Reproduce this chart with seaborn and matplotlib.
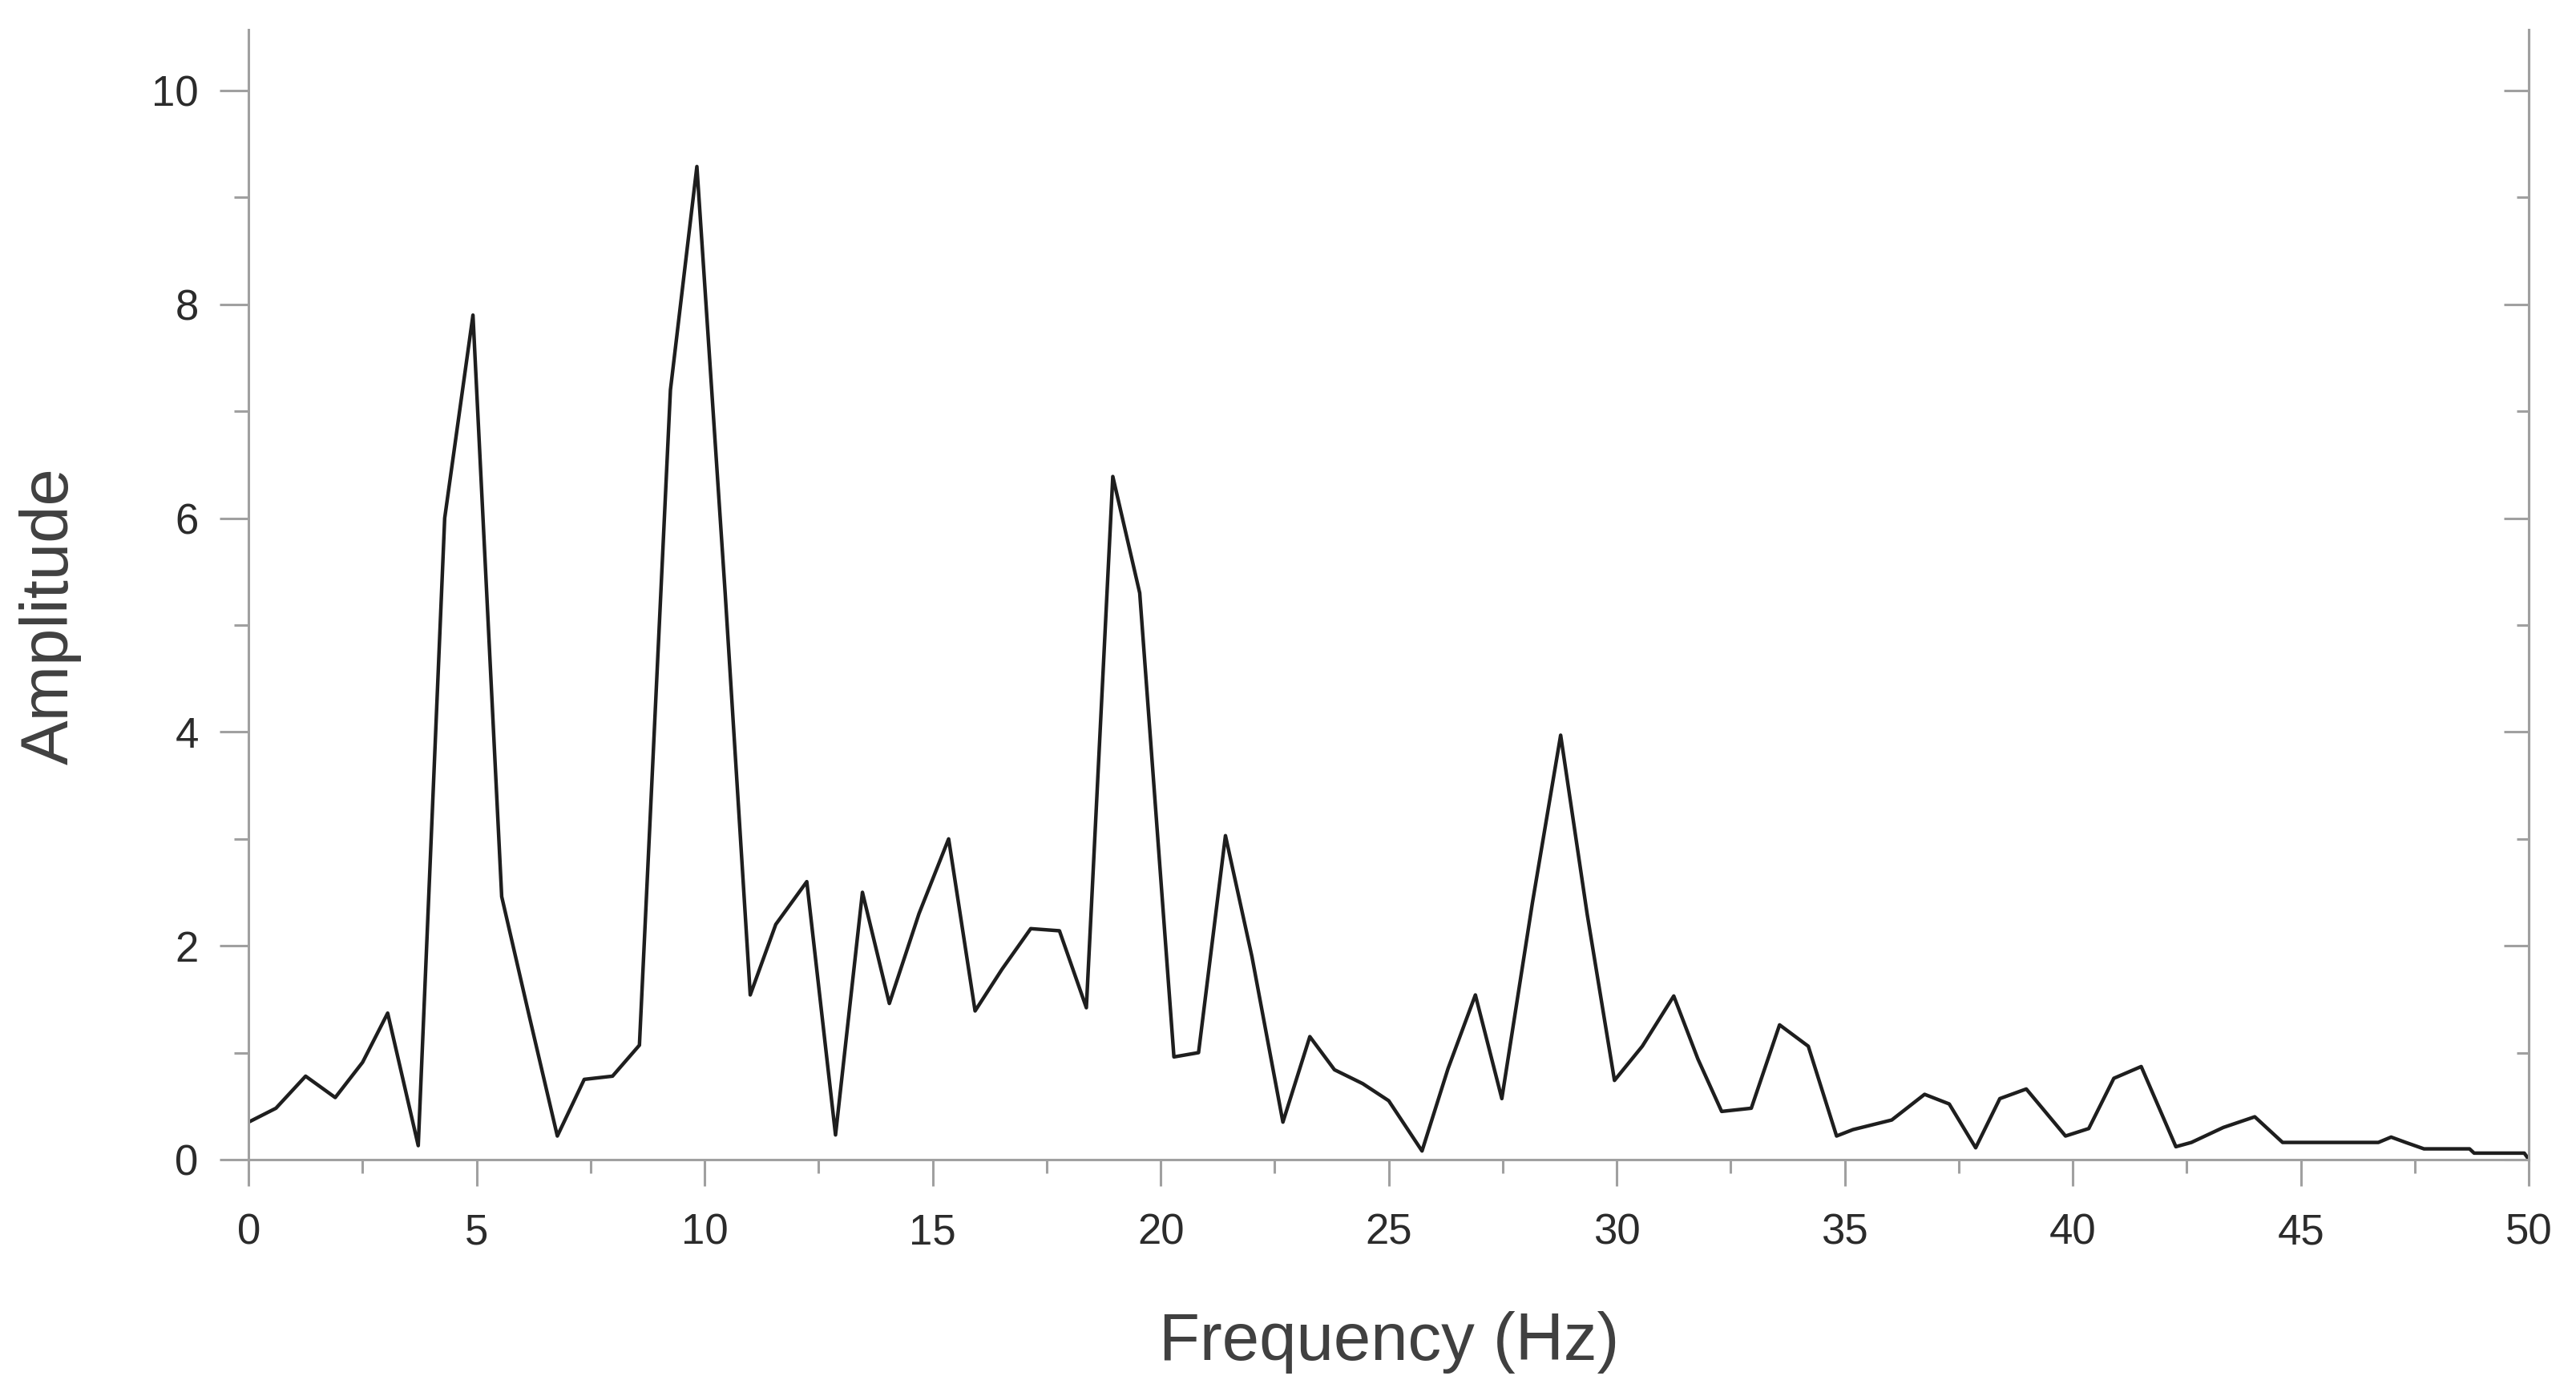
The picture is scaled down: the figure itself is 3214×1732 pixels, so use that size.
import numpy as np
import pandas as pd
import seaborn as sns
import matplotlib.pyplot as plt
from matplotlib.ticker import MultipleLocator

# Spectrum
freq = [0.0, 0.6, 1.25, 1.9, 2.5, 3.05, 3.72, 4.3, 4.92, 5.55, 6.15, 6.77, 7.36, 7.98, 8.57,
        9.25, 9.83, 10.45, 11.0, 11.56, 12.24, 12.87, 13.46, 14.05, 14.7, 15.35, 15.93, 16.52,
        17.15, 17.78, 18.37, 18.95, 19.54, 20.29, 20.83, 21.42, 22.0, 22.68, 23.27, 23.81,
        24.43, 25.0, 25.73, 26.3, 26.9, 27.48, 28.15, 28.77, 29.35, 29.95, 30.56, 31.25,
        31.78, 32.3, 32.95, 33.57, 34.2, 34.82, 35.18, 36.03, 36.75, 37.29, 37.87, 38.4,
        38.98, 39.84, 40.35, 40.9, 41.5, 42.26, 42.6, 43.3, 43.99, 44.6, 45.2, 45.8, 46.4,
        46.7, 46.98, 47.3, 47.7, 48.2, 48.7, 48.8, 49.4, 49.9, 50.0]
amplitude = [0.35, 0.48, 0.78, 0.58, 0.91, 1.37, 0.13, 6.0, 7.9, 2.46, 1.35, 0.22, 0.75, 0.78, 1.07,
             7.2, 9.29, 5.3, 1.54, 2.2, 2.6, 0.23, 2.5, 1.46, 2.3, 3.0, 1.39, 1.78,
             2.16, 2.14, 1.42, 6.39, 5.3, 0.96, 1.0, 3.03, 1.9, 0.35, 1.15, 0.84,
             0.71, 0.55, 0.08, 0.85, 1.54, 0.57, 2.4, 3.97, 2.3, 0.74, 1.06, 1.53,
             0.94, 0.45, 0.48, 1.26, 1.06, 0.22, 0.28, 0.37, 0.61, 0.52, 0.11, 0.57,
             0.66, 0.22, 0.29, 0.76, 0.87, 0.12, 0.16, 0.3, 0.4, 0.16, 0.16, 0.16, 0.16,
             0.16, 0.21, 0.16, 0.1, 0.1, 0.1, 0.06, 0.06, 0.06, 0.0]

df = pd.DataFrame({"Frequency": freq, "Amplitude": amplitude})

sns.set_style("ticks")
plt.rcParams['font.family'] = ['Liberation Sans', 'DejaVu Sans']

fig = plt.figure(figsize=(32.14, 17.32), dpi=100)
ax = fig.add_axes([0.0965, 0.1646, 0.8852, 0.814])

sns.lineplot(data=df, x="Frequency", y="Amplitude", color="#1e1e1e", linewidth=3.2, ax=ax)

ax.set_xlim(0, 50)
ax.set_ylim(0, 10.57)

ax.xaxis.set_major_locator(MultipleLocator(5))
ax.xaxis.set_minor_locator(MultipleLocator(2.5))
ax.yaxis.set_major_locator(MultipleLocator(2))
ax.yaxis.set_minor_locator(MultipleLocator(1))

spine_col = "#a0a0a0"
ax.spines["top"].set_visible(False)
for s in ["left", "right", "bottom"]:
    ax.spines[s].set_color(spine_col)
    ax.spines[s].set_linewidth(2.2)

ax.tick_params(axis="both", which="both", color=spine_col, width=2.2, labelcolor="#2b2b2b",
               labelsize=38)
ax.tick_params(axis="x", which="major", length=24, pad=24, direction="out")
ax.tick_params(axis="x", which="minor", length=12, direction="out")
ax.tick_params(axis="y", which="major", length=26, pad=19, direction="out")
ax.tick_params(axis="y", which="minor", length=13, direction="out")

# inward ticks on the right spine
ax2 = ax.secondary_yaxis("right")
ax2.yaxis.set_major_locator(MultipleLocator(2))
ax2.yaxis.set_minor_locator(MultipleLocator(1))
ax2.spines["right"].set_color(spine_col)
ax2.spines["right"].set_linewidth(2.2)
ax2.tick_params(which="both", direction="in", color=spine_col, width=2.2, labelright=False)
ax2.tick_params(which="major", length=22)
ax2.tick_params(which="minor", length=11)

ax.set_xlabel("Frequency (Hz)", fontsize=60, color="#404040")
ax.set_ylabel("Amplitude", fontsize=60, color="#404040")
ax.xaxis.label.set_va("center")
ax.yaxis.label.set_va("center")
ax.xaxis.set_label_coords(0.5, -0.162)
ax.yaxis.set_label_coords(-0.087, 0.481)

fig.savefig("out.png", dpi=100)
